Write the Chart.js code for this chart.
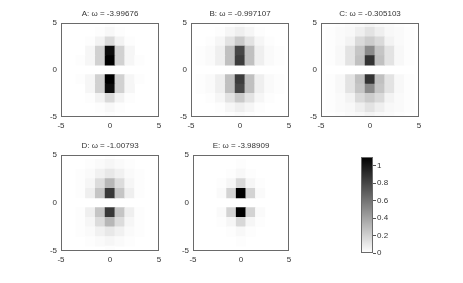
<!DOCTYPE html>
<html>
<head>
<meta charset="utf-8">
<title>Eigenmodes</title>
<script src="https://cdn.jsdelivr.net/npm/chart.js@4.4.1/dist/chart.umd.min.js"></script>
<style>
  html, body { margin: 0; padding: 0; background: #fff; }
  body { width: 463px; height: 283px; position: relative; overflow: hidden; }
  canvas { position: absolute; }
</style>
</head>
<body>
<canvas id="panelA" width="137" height="135" style="left:30px;top:0px"></canvas>
<canvas id="panelB" width="137" height="135" style="left:160px;top:0px"></canvas>
<canvas id="panelC" width="137" height="135" style="left:290px;top:0px"></canvas>
<canvas id="panelD" width="137" height="137" style="left:30px;top:132px"></canvas>
<canvas id="panelE" width="135" height="137" style="left:162px;top:132px"></canvas>
<canvas id="colorbar" width="50" height="110" style="left:355px;top:150px"></canvas>
<script>
// グリッドの座標 (セル中心)
const xCells = [-5, -4, -3, -2, -1, 0, 1, 2, 3, 4, 5];
const yCells = [5, 4, 3, 2, 1, 0, -1, -2, -3, -4, -5];
const axisTicks = [-5, 0, 5];
const colorbarTicks = [0, 0.2, 0.4, 0.6, 0.8, 1];
const colorMax = 1.1;

const titles = [
    'A: ω = -3.99676',
    'B: ω = -0.997107',
    'C: ω = -0.305103',
    'D: ω = -1.00793',
    'E: ω = -3.98909'
];

// 各パネルの値 (行: y = 5 … -5, 列: x = -5 … 5)
const gridA = [
    [0, 0, 0, 0, 0, 0.01, 0, 0, 0, 0, 0],
    [0, 0, 0, 0, 0.01, 0.03, 0.01, 0, 0, 0, 0],
    [0, 0, 0, 0.01, 0.05, 0.16, 0.05, 0.01, 0, 0, 0],
    [0, 0, 0, 0.04, 0.2, 1.05, 0.2, 0.04, 0, 0, 0],
    [0, 0, 0.01, 0.04, 0.2, 1.1, 0.2, 0.04, 0.01, 0, 0],
    [0, 0, 0, 0, 0, 0, 0, 0, 0, 0, 0],
    [0, 0, 0.01, 0.04, 0.2, 1.1, 0.2, 0.04, 0.01, 0, 0],
    [0, 0, 0, 0.04, 0.2, 1.05, 0.2, 0.04, 0, 0, 0],
    [0, 0, 0, 0.01, 0.05, 0.16, 0.05, 0.01, 0, 0, 0],
    [0, 0, 0, 0, 0.01, 0.03, 0.01, 0, 0, 0, 0],
    [0, 0, 0, 0, 0, 0.01, 0, 0, 0, 0, 0]
];

const gridB = [
    [0, 0, 0, 0, 0.01, 0.02, 0.01, 0, 0, 0, 0],
    [0, 0, 0, 0.01, 0.04, 0.07, 0.04, 0.01, 0, 0, 0],
    [0, 0, 0.01, 0.04, 0.12, 0.23, 0.12, 0.04, 0.01, 0, 0],
    [0, 0.01, 0.02, 0.07, 0.27, 0.8, 0.27, 0.07, 0.02, 0.01, 0],
    [0, 0.01, 0.02, 0.07, 0.27, 0.84, 0.27, 0.07, 0.02, 0.01, 0],
    [0, 0, 0, 0, 0, 0, 0, 0, 0, 0, 0],
    [0, 0.01, 0.02, 0.07, 0.27, 0.84, 0.27, 0.07, 0.02, 0.01, 0],
    [0, 0.01, 0.02, 0.07, 0.27, 0.8, 0.27, 0.07, 0.02, 0.01, 0],
    [0, 0, 0.01, 0.04, 0.12, 0.23, 0.12, 0.04, 0.01, 0, 0],
    [0, 0, 0, 0.01, 0.04, 0.07, 0.04, 0.01, 0, 0, 0],
    [0, 0, 0, 0, 0.01, 0.02, 0.01, 0, 0, 0, 0]
];

const gridC = [
    [0, 0, 0.01, 0.02, 0.03, 0.05, 0.03, 0.02, 0.01, 0, 0],
    [0, 0.01, 0.02, 0.03, 0.07, 0.12, 0.07, 0.03, 0.02, 0.01, 0],
    [0, 0.01, 0.02, 0.05, 0.16, 0.22, 0.16, 0.05, 0.02, 0.01, 0],
    [0, 0.01, 0.03, 0.12, 0.25, 0.5, 0.25, 0.12, 0.03, 0.01, 0],
    [0, 0.01, 0.03, 0.12, 0.27, 0.88, 0.27, 0.12, 0.03, 0.01, 0],
    [0, 0, 0, 0, 0, 0, 0, 0, 0, 0, 0],
    [0, 0.01, 0.03, 0.12, 0.27, 0.88, 0.27, 0.12, 0.03, 0.01, 0],
    [0, 0.01, 0.03, 0.12, 0.25, 0.5, 0.25, 0.12, 0.03, 0.01, 0],
    [0, 0.01, 0.02, 0.05, 0.16, 0.22, 0.16, 0.05, 0.02, 0.01, 0],
    [0, 0.01, 0.02, 0.03, 0.07, 0.12, 0.07, 0.03, 0.02, 0.01, 0],
    [0, 0, 0.01, 0.02, 0.03, 0.05, 0.03, 0.02, 0.01, 0, 0]
];

const gridD = [
    [0, 0, 0, 0, 0, 0.01, 0, 0, 0, 0, 0],
    [0, 0, 0, 0.01, 0.02, 0.04, 0.02, 0.01, 0, 0, 0],
    [0, 0, 0.01, 0.02, 0.06, 0.1, 0.06, 0.02, 0.01, 0, 0],
    [0, 0, 0.01, 0.04, 0.15, 0.31, 0.15, 0.04, 0.01, 0, 0],
    [0, 0, 0.01, 0.07, 0.25, 0.86, 0.25, 0.07, 0.01, 0, 0],
    [0, 0, 0, 0, 0, 0, 0, 0, 0, 0, 0],
    [0, 0, 0.01, 0.07, 0.25, 0.86, 0.25, 0.07, 0.01, 0, 0],
    [0, 0, 0.01, 0.04, 0.15, 0.31, 0.15, 0.04, 0.01, 0, 0],
    [0, 0, 0.01, 0.02, 0.06, 0.1, 0.06, 0.02, 0.01, 0, 0],
    [0, 0, 0, 0.01, 0.02, 0.04, 0.02, 0.01, 0, 0, 0],
    [0, 0, 0, 0, 0, 0.01, 0, 0, 0, 0, 0]
];

const gridE = [
    [0, 0, 0, 0, 0, 0, 0, 0, 0, 0, 0],
    [0, 0, 0, 0, 0, 0.01, 0, 0, 0, 0, 0],
    [0, 0, 0, 0, 0.01, 0.03, 0.01, 0, 0, 0, 0],
    [0, 0, 0, 0.01, 0.04, 0.17, 0.04, 0.01, 0, 0, 0],
    [0, 0, 0, 0.02, 0.19, 1.1, 0.19, 0.02, 0, 0, 0],
    [0, 0, 0, 0, 0, 0, 0, 0, 0, 0, 0],
    [0, 0, 0, 0.02, 0.19, 1.1, 0.19, 0.02, 0, 0, 0],
    [0, 0, 0, 0.01, 0.04, 0.17, 0.04, 0.01, 0, 0, 0],
    [0, 0, 0, 0, 0.01, 0.03, 0.01, 0, 0, 0, 0],
    [0, 0, 0, 0, 0, 0.01, 0, 0, 0, 0, 0],
    [0, 0, 0, 0, 0, 0, 0, 0, 0, 0, 0]
];

Chart.defaults.font.family = "'Liberation Sans', Arial, sans-serif";
Chart.defaults.font.size = 8;
Chart.defaults.color = '#333';

// 値 → グレー (0 = 白, colorMax = 黒)
function grayFor(v) {
    const t = Math.min(Math.max(v / colorMax, 0), 1);
    const g = Math.round(255 * (1 - t));
    return `rgb(${g},${g},${g})`;
}

// グリッドを浮動バーに変換
function toBars(grid) {
    const bars = [];
    grid.forEach((row, r) => {
        row.forEach((v, c) => {
            if (v <= 0) return;
            bars.push({ x: xCells[c], y: [yCells[r] - 0.5, yCells[r] + 0.5], v: v });
        });
    });
    return bars;
}

// プロット領域の枠線
const framePlugin = {
    id: 'frame',
    afterDatasetsDraw(chart) {
        const { ctx, chartArea: a } = chart;
        ctx.save();
        ctx.strokeStyle = '#6a6a6a';
        ctx.lineWidth = 1;
        const l = Math.round(a.left) + 0.5, t = Math.round(a.top) + 0.5;
        const r = Math.round(a.right) - 0.5, b = Math.round(a.bottom) - 0.5;
        ctx.strokeRect(l, t, r - l, b - t);
        ctx.restore();
    }
};

function makePanel(id, title, grid) {
    new Chart(document.getElementById(id), {
        type: 'bar',
        data: {
            datasets: [{
                data: toBars(grid),
                backgroundColor: ctx => grayFor(ctx.raw ? ctx.raw.v : 0),
                borderWidth: 0,
                barPercentage: 1,
                categoryPercentage: 1,
                grouped: false,
                clip: 0
            }]
        },
        options: {
            responsive: false,
            animation: false,
            layout: { padding: { left: 0, right: 8, top: 0, bottom: 0 } },
            plugins: {
                legend: { display: false },
                tooltip: { enabled: false },
                title: {
                    display: true,
                    fullSize: false,
                    text: title,
                    font: { size: 8, weight: 'normal' },
                    color: '#333',
                    padding: { top: 9, bottom: 4 }
                }
            },
            scales: {
                x: {
                    type: 'linear',
                    min: -5,
                    max: 5,
                    offset: false,
                    grid: { display: false, drawTicks: false },
                    border: { display: false },
                    ticks: { padding: 4, maxRotation: 0 },
                    afterBuildTicks: s => { s.ticks = axisTicks.map(v => ({ value: v })); },
                    afterFit: s => { s.height = 18; }
                },
                y: {
                    type: 'linear',
                    min: -5,
                    max: 5,
                    grid: { display: false, drawTicks: false },
                    border: { display: false },
                    ticks: { padding: 4 },
                    afterBuildTicks: s => { s.ticks = axisTicks.map(v => ({ value: v })); },
                    afterFit: s => { s.width = 31; }
                }
            }
        },
        plugins: [framePlugin]
    });
}

makePanel('panelA', titles[0], gridA);
makePanel('panelB', titles[1], gridB);
makePanel('panelC', titles[2], gridC);
makePanel('panelD', titles[3], gridD);
makePanel('panelE', titles[4], gridE);

// カラーバー
new Chart(document.getElementById('colorbar'), {
    type: 'bar',
    data: {
        labels: [''],
        datasets: [{
            data: [[0, colorMax]],
            backgroundColor: ctx => {
                const chart = ctx.chart;
                if (!chart.chartArea) return '#888';
                const ys = chart.scales.y;
                const g = chart.ctx.createLinearGradient(0, ys.getPixelForValue(0), 0, ys.getPixelForValue(colorMax));
                g.addColorStop(0, grayFor(0));
                g.addColorStop(1, grayFor(colorMax));
                return g;
            },
            borderWidth: 0,
            barPercentage: 1,
            categoryPercentage: 1
        }]
    },
    options: {
        responsive: false,
        animation: false,
        layout: { padding: { left: 6, right: 0, top: 7, bottom: 7 } },
        plugins: { legend: { display: false }, tooltip: { enabled: false } },
        scales: {
            x: { display: false },
            y: {
                position: 'right',
                min: 0,
                max: colorMax,
                grid: { drawOnChartArea: false, drawTicks: true, tickLength: 3, color: '#555' },
                border: { display: false },
                ticks: { padding: 1, callback: v => String(v) },
                afterBuildTicks: s => { s.ticks = colorbarTicks.map(v => ({ value: v })); },
                afterFit: s => { s.width = 32; }
            }
        }
    },
    plugins: [framePlugin]
});
</script>
</body>
</html>
